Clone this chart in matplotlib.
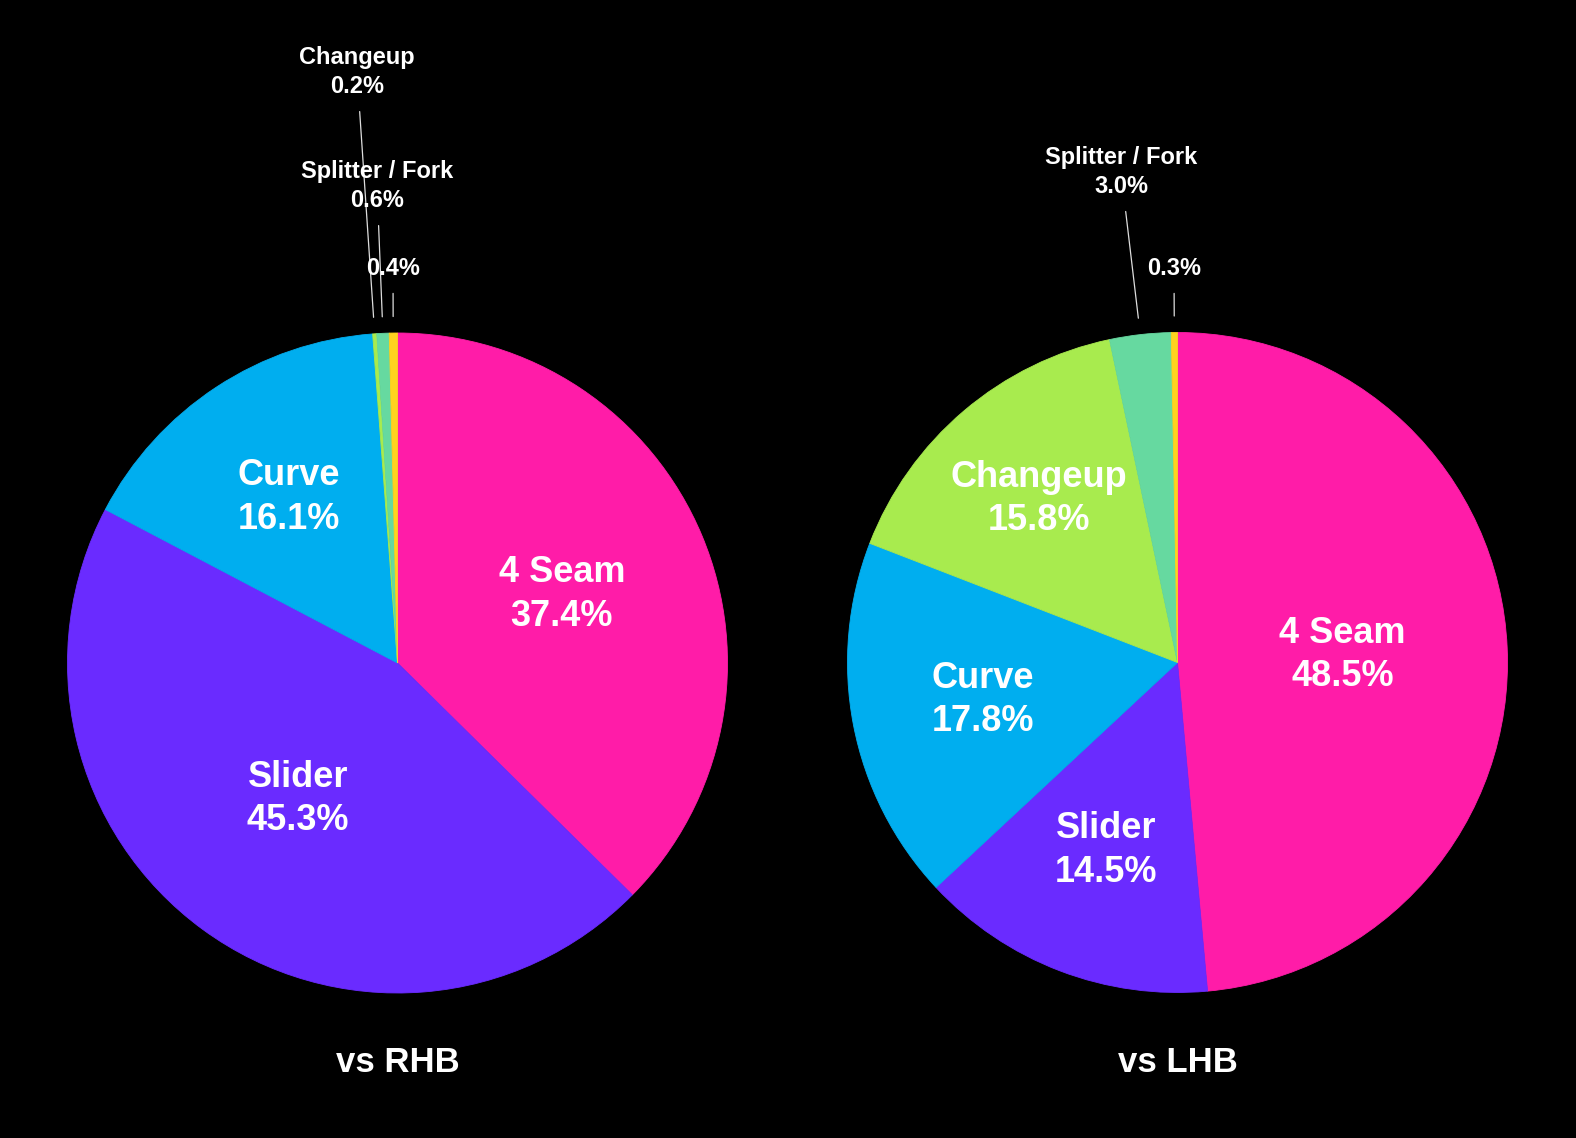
import numpy as np
from matplotlib import pyplot as plt

plt.rcParams['font.family'] = ['Liberation Sans', 'DejaVu Sans']

# pitch mix, clockwise from 12 o'clock
pitches = ['4 Seam', 'Slider', 'Curve', 'Changeup', 'Splitter / Fork', '']
colors = ['#FF1CA8', '#6A2BFF', '#00AEEF', '#A8EB4E', '#66D9A0', '#FFD21F']
rhb = [37.4, 45.3, 16.1, 0.2, 0.6, 0.4]
lhb = [48.5, 14.5, 17.8, 15.8, 3.0, 0.3]
titles = ['vs RHB', 'vs LHB']

W, H = 1576, 1138
fig = plt.figure(figsize=(W / 100, H / 100), dpi=100, facecolor='black')
ax = fig.add_axes([0, 0, 1, 1])
ax.set_facecolor('black')

R = 330
centers = [(397.5, 663), (1177.5, 662.5)]
# label distance (fraction of radius) for the big wedges
inner = [[0.54, 0.51, 0.60], [0.50, 0.61, 0.60, 0.65]]
# where the small outside labels sit (pixels from top-left)
outer = [{3: (357, 72), 4: (377, 186), 5: (393, 268)},
         {4: (1121, 172), 5: (1174, 268)}]

for k, vals in enumerate([rhb, lhb]):
    cx, cy = centers[k]
    cy = H - cy
    wedges, _ = ax.pie(vals, colors=colors, center=(cx, cy), radius=R, startangle=90,
                       counterclock=False, wedgeprops=dict(linewidth=0.6))
    for w in wedges:
        w.set_edgecolor(w.get_facecolor())
    tot = sum(vals)
    cum = 0
    for i, v in enumerate(vals):
        ang = np.deg2rad(90 - 360 * (cum + v / 2) / tot)
        cum += v
        name = pitches[i]
        txt = f'{v:.1f}%' if not name else f'{name}\n{v:.1f}%'
        if i < len(inner[k]):
            d = inner[k][i] * R
            ax.text(cx + d * np.cos(ang), cy + d * np.sin(ang), txt,
                    color='white', fontsize=26, fontweight='bold',
                    ha='center', va='center', linespacing=1.32)
        elif i in outer[k]:
            tx, ty = outer[k][i]
            px = cx + 1.05 * R * np.cos(ang)
            py = cy + 1.05 * R * np.sin(ang)
            ax.annotate(txt, xy=(px, py), xytext=(tx, H - ty),
                        color='white', fontsize=17, fontweight='bold',
                        ha='center', va='center', linespacing=1.3,
                        arrowprops=dict(arrowstyle='-', color='#DDDDDD', lw=0.9,
                                        shrinkA=8, shrinkB=0))
    ax.text(cx, H - 1063, titles[k], color='white', fontsize=25,
            fontweight='bold', ha='center', va='center')

ax.set_xlim(0, W)
ax.set_ylim(0, H)
ax.set_aspect('equal')
ax.set_position([0, 0, 1, 1])
ax.axis('off')

fig.savefig('out.png', dpi=100, facecolor='black')
